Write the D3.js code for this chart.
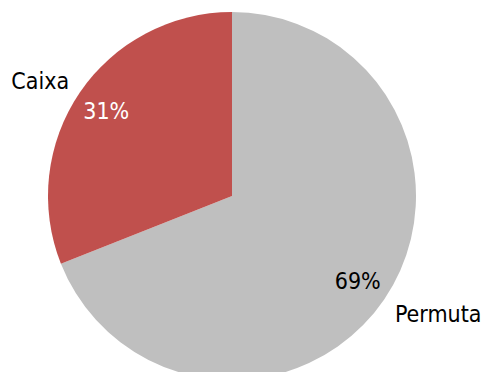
<!DOCTYPE html>
<html>
<head>
<meta charset="utf-8">
<script src="https://cdn.jsdelivr.net/npm/d3@7"></script>
<style>
  html, body { margin: 0; padding: 0; background: #fff; overflow: hidden; }
  svg { display: block; }
  text { font-family: "DejaVu Sans Condensed", "DejaVu Sans", Verdana, sans-serif; font-stretch: condensed; font-size: 23px; }
</style>
</head>
<body>
<svg id="chart" width="485" height="372"></svg>
<script>
// Payment split
const categories = ["Permuta", "Caixa"];
const shares = [69, 31];
const sliceColors = ["#BFBFBF", "#C0504D"];
const percentColors = ["#000000", "#FFFFFF"];

const width = 485, height = 372;
const cx = 232, cy = 196, radius = 184;

const data = categories.map((c, i) => ({ name: c, value: shares[i] }));

const svg = d3.select("#chart");
const g = svg.append("g").attr("transform", `translate(${cx},${cy})`);

const pie = d3.pie().value(d => d.value).sort(null);
const arcs = pie(data);

const arc = d3.arc().innerRadius(0).outerRadius(radius);
const pctArc = d3.arc().innerRadius(152).outerRadius(152);
const nameArc = d3.arc().innerRadius(197).outerRadius(197);

const rightSide = d => (d.startAngle + d.endAngle) / 2 < Math.PI;

g.selectAll("path.slice")
  .data(arcs)
  .join("path")
  .attr("class", "slice")
  .attr("d", arc)
  .attr("fill", (d, i) => sliceColors[i]);

// Percentage labels inside each slice
g.selectAll("text.pct")
  .data(arcs)
  .join("text")
  .attr("class", "pct")
  .attr("transform", d => `translate(${pctArc.centroid(d)})`)
  .attr("text-anchor", "middle")
  .attr("dy", "0.35em")
  .attr("fill", (d, i) => percentColors[i])
  .text(d => d.data.value + "%");

// Category names outside the pie
g.selectAll("text.name")
  .data(arcs)
  .join("text")
  .attr("class", "name")
  .attr("transform", d => `translate(${nameArc.centroid(d)})`)
  .attr("text-anchor", d => rightSide(d) ? "start" : "end")
  .attr("dy", d => rightSide(d) ? "0.66em" : "0.15em")
  .attr("fill", "#000")
  .text(d => d.data.name);
</script>
</body>
</html>
